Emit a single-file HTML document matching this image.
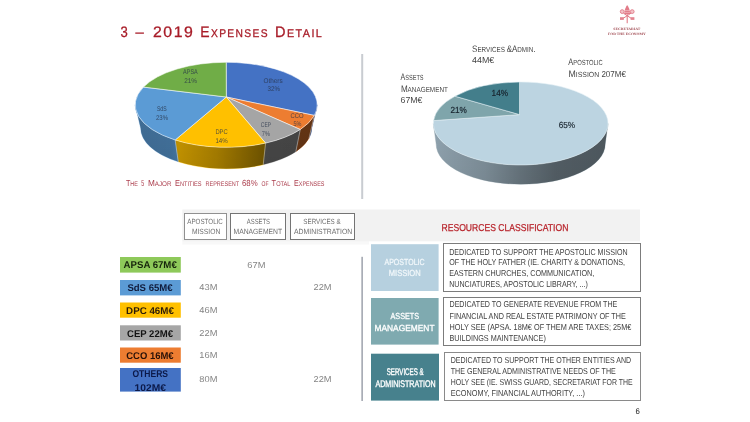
<!DOCTYPE html>
<html><head><meta charset="utf-8">
<style>
html,body{margin:0;padding:0;background:#fff;}
body{width:750px;height:422px;position:relative;overflow:hidden;font-family:"Liberation Sans",sans-serif;}
.t{position:absolute;white-space:nowrap;line-height:1;transform-origin:0 0;text-rendering:geometricPrecision;}
#tx{position:absolute;left:0;top:0;width:750px;height:422px;will-change:opacity;}
.b{position:absolute;box-sizing:border-box;}
</style></head><body>
<svg width="750" height="422" viewBox="0 0 750 422" style="position:absolute;left:0;top:0"><rect x="182.30" y="241.00" width="186.70" height="3.60" fill="#f8f8f8"/>
<rect x="182.30" y="209.50" width="457.70" height="31.80" fill="#f2f2f2"/>
<rect x="361.20" y="54.00" width="2.00" height="145.00" fill="#c9ccd1"/>
<rect x="361.30" y="256.80" width="1.70" height="144.20" fill="#a9adb6"/>
<rect x="184.50" y="213.50" width="42.00" height="26.00" fill="#ffffff" stroke="#909090" stroke-width="1"/>
<rect x="230.50" y="213.50" width="55.00" height="26.00" fill="#ffffff" stroke="#747474" stroke-width="1"/>
<rect x="290.50" y="213.50" width="64.00" height="26.00" fill="#ffffff" stroke="#747474" stroke-width="1"/>
<rect x="120.00" y="257.00" width="60.80" height="15.60" fill="#8ec95a"/>
<rect x="120.00" y="280.00" width="60.80" height="15.40" fill="#5b9bd5"/>
<rect x="120.00" y="302.50" width="60.80" height="15.20" fill="#ffc000"/>
<rect x="120.00" y="325.30" width="60.80" height="15.20" fill="#a6a6a6"/>
<rect x="120.00" y="347.50" width="60.80" height="15.20" fill="#ed7d31"/>
<rect x="120.00" y="368.00" width="60.80" height="23.60" fill="#4472c4"/>
<rect x="371.00" y="244.20" width="67.60" height="46.80" fill="#b6d0df"/>
<rect x="371.00" y="298.00" width="67.60" height="46.60" fill="#7faab0"/>
<rect x="371.00" y="353.70" width="68.00" height="46.90" fill="#47818d"/>
<rect x="443.50" y="243.50" width="197.00" height="48.00" fill="#ffffff" stroke="#7c7c7c" stroke-width="1"/>
<rect x="443.50" y="297.50" width="197.00" height="48.00" fill="#ffffff" stroke="#7c7c7c" stroke-width="1"/>
<rect x="444.50" y="352.50" width="196.00" height="48.00" fill="#ffffff" stroke="#8a8a8a" stroke-width="1"/></svg>
<svg width="750" height="422" viewBox="0 0 750 422" style="position:absolute;left:0;top:0">
<defs>
<linearGradient id="lps" gradientUnits="userSpaceOnUse" x1="135" y1="0" x2="317" y2="0">
<stop offset="0" stop-color="#000" stop-opacity="0.30"/>
<stop offset="0.2" stop-color="#000" stop-opacity="0.27"/>
<stop offset="0.24" stop-color="#000" stop-opacity="0.22"/>
<stop offset="0.45" stop-color="#000" stop-opacity="0.34"/>
<stop offset="0.70" stop-color="#000" stop-opacity="0.55"/>
<stop offset="0.74" stop-color="#000" stop-opacity="0.57"/>
<stop offset="1" stop-color="#000" stop-opacity="0.58"/>
</linearGradient>
<linearGradient id="lpv" gradientUnits="userSpaceOnUse" x1="0" y1="105" x2="0" y2="168">
<stop offset="0" stop-color="#000" stop-opacity="0"/>
<stop offset="1" stop-color="#000" stop-opacity="0.06"/>
</linearGradient>
<linearGradient id="rps" gradientUnits="userSpaceOnUse" x1="433" y1="0" x2="608" y2="0">
<stop offset="0" stop-color="#000" stop-opacity="0.0"/>
<stop offset="0.3" stop-color="#000" stop-opacity="0.13"/>
<stop offset="0.5" stop-color="#000" stop-opacity="0.29"/>
<stop offset="0.7" stop-color="#000" stop-opacity="0.42"/>
<stop offset="1" stop-color="#000" stop-opacity="0.46"/>
</linearGradient>
<linearGradient id="rpv" gradientUnits="userSpaceOnUse" x1="0" y1="123" x2="0" y2="186">
<stop offset="0" stop-color="#000" stop-opacity="0"/>
<stop offset="1" stop-color="#000" stop-opacity="0.05"/>
</linearGradient>
</defs>
<path d="M317.20,104.80 A91,42.5 0 0 1 314.31,115.42 L308.99,138.32 A85.5,40.5 0 0 0 311.70,128.20 Z" fill="#4472c4" stroke="#4472c4" stroke-width="0.4"/>
<path d="M314.31,115.42 A91,42.5 0 0 1 300.27,129.49 L295.79,151.73 A85.5,40.5 0 0 0 308.99,138.32 Z" fill="#ed7d31" stroke="#ed7d31" stroke-width="0.4"/>
<path d="M300.27,129.49 A91,42.5 0 0 1 265.59,143.11 L263.21,164.71 A85.5,40.5 0 0 0 295.79,151.73 Z" fill="#a5a5a5" stroke="#a5a5a5" stroke-width="0.4"/>
<path d="M265.59,143.11 A91,42.5 0 0 1 175.16,139.98 L178.24,161.73 A85.5,40.5 0 0 0 263.21,164.71 Z" fill="#ffc000" stroke="#ffc000" stroke-width="0.4"/>
<path d="M175.16,139.98 A91,42.5 0 0 1 135.20,104.80 L140.70,128.20 A85.5,40.5 0 0 0 178.24,161.73 Z" fill="#5b9bd5" stroke="#5b9bd5" stroke-width="0.4"/>
<path d="M317.20,104.80 A91,42.5 0 0 1 135.20,104.80 L140.70,128.20 A85.5,40.5 0 0 0 311.70,128.20 Z" fill="url(#lps)"/>
<path d="M317.20,104.80 A91,42.5 0 0 1 135.20,104.80 L140.70,128.20 A85.5,40.5 0 0 0 311.70,128.20 Z" fill="url(#lpv)"/>
<path d="M314.31,115.42 L308.99,138.32" stroke="#ffffff" stroke-opacity="0.55" stroke-width="0.7" fill="none"/>
<path d="M300.27,129.49 L295.79,151.73" stroke="#ffffff" stroke-opacity="0.55" stroke-width="0.7" fill="none"/>
<path d="M265.59,143.11 L263.21,164.71" stroke="#ffffff" stroke-opacity="0.55" stroke-width="0.7" fill="none"/>
<path d="M175.16,139.98 L178.24,161.73" stroke="#ffffff" stroke-opacity="0.55" stroke-width="0.7" fill="none"/>
<path d="M226.30,97.00 L226.20,62.30 A91,42.5 0 0 1 314.31,115.42 Z" fill="#4472c4" stroke="#ffffff" stroke-opacity="0.75" stroke-width="0.7" stroke-linejoin="round"/>
<path d="M226.30,97.00 L314.31,115.42 A91,42.5 0 0 1 300.27,129.49 Z" fill="#ed7d31" stroke="#ffffff" stroke-opacity="0.75" stroke-width="0.7" stroke-linejoin="round"/>
<path d="M226.30,97.00 L300.27,129.49 A91,42.5 0 0 1 265.59,143.11 Z" fill="#a5a5a5" stroke="#ffffff" stroke-opacity="0.75" stroke-width="0.7" stroke-linejoin="round"/>
<path d="M226.30,97.00 L265.59,143.11 A91,42.5 0 0 1 175.16,139.98 Z" fill="#ffc000" stroke="#ffffff" stroke-opacity="0.75" stroke-width="0.7" stroke-linejoin="round"/>
<path d="M226.30,97.00 L175.16,139.98 A91,42.5 0 0 1 143.47,87.09 Z" fill="#5b9bd5" stroke="#ffffff" stroke-opacity="0.75" stroke-width="0.7" stroke-linejoin="round"/>
<path d="M226.30,97.00 L143.47,87.09 A91,42.5 0 0 1 226.20,62.30 Z" fill="#70ad47" stroke="#ffffff" stroke-opacity="0.75" stroke-width="0.7" stroke-linejoin="round"/>
<path d="M608.00,123.50 A87.3,41.5 0 0 1 433.40,123.50 L436.20,144.20 A84.5,40 0 0 0 605.20,144.20 Z" fill="#90a3af" stroke="#90a3af" stroke-width="0.4"/>
<path d="M608.00,123.50 A87.3,41.5 0 0 1 433.40,123.50 L436.20,144.20 A84.5,40 0 0 0 605.20,144.20 Z" fill="url(#rps)"/>
<path d="M608.00,123.50 A87.3,41.5 0 0 1 433.40,123.50 L436.20,144.20 A84.5,40 0 0 0 605.20,144.20 Z" fill="url(#rpv)"/>
<path d="M519.50,114.60 L519.51,82.00 A87.3,41.5 0 1 1 433.61,120.60 Z" fill="#bcd4e1" stroke="#e3eef5" stroke-opacity="0.8" stroke-width="0.7" stroke-linejoin="round"/>
<path d="M519.50,114.60 L433.61,120.60 A87.3,41.5 0 0 1 454.94,96.21 Z" fill="#7fa5ab" stroke="#e3eef5" stroke-opacity="0.8" stroke-width="0.7" stroke-linejoin="round"/>
<path d="M519.50,114.60 L454.94,96.21 A87.3,41.5 0 0 1 519.51,82.00 Z" fill="#437e8b" stroke="#e3eef5" stroke-opacity="0.8" stroke-width="0.7" stroke-linejoin="round"/>
<g>
<path d="M627.2,5.6 C625.4,7.4 624.4,10.2 624.2,14 L630.2,14 C630,10.2 629,7.4 627.2,5.6 Z" fill="#e27c89"/>
<path d="M626.2,6.6 h2 M627.2,5.2 v2.2" stroke="#e27c89" stroke-width="0.6" fill="none"/>
<circle cx="622.2" cy="11.6" r="1.9" fill="#f3c3c8" stroke="#e48491" stroke-width="1"/>
<circle cx="632.2" cy="11.6" r="1.9" fill="#f3c3c8" stroke="#e48491" stroke-width="1"/>
<path d="M623.4,13.2 L631.6,18.6 M631,13.2 L622.8,18.6" stroke="#e27c89" stroke-width="1" fill="none"/>
<rect x="620" y="17.2" width="3.8" height="2.7" fill="#e48491"/>
<rect x="630.6" y="17.2" width="3.8" height="2.7" fill="#e48491"/>
<path d="M627.2,14 V23.2" stroke="#e27c89" stroke-width="1.1" fill="none"/>
<path d="M624.6,10.5 h5.2 M624.3,12.4 h5.8" stroke="#f6d5d9" stroke-width="0.5" fill="none"/>
</g>
</svg>
<div id="tx">
<div class="t" id="t0" style='left:120px;top:25px;font-size:15.2px;color:#a81c28;font-weight:400;font-family:"Liberation Sans", sans-serif;transform:translate(0.40px,0.00px) scaleX(0.8618);-webkit-text-stroke:0.3px #a81c28;'><span style="font-size:15.2px">3</span></div>
<div class="t" id="t1" style='left:135px;top:25px;font-size:15.2px;color:#a81c28;font-weight:400;font-family:"Liberation Sans", sans-serif;transform:translate(0.60px,0.00px) scaleX(0.9771);-webkit-text-stroke:0.3px #a81c28;'><span style="font-size:15.2px">–</span></div>
<div class="t" id="t2" style='left:152px;top:25px;font-size:15.2px;color:#a81c28;font-weight:400;font-family:"Liberation Sans", sans-serif;letter-spacing:1.5px;transform:translate(0.90px,0.00px) scaleX(1.0436);-webkit-text-stroke:0.3px #a81c28;'><span style="font-size:15.2px">2019</span></div>
<div class="t" id="t3" style='left:200px;top:25px;font-size:15.2px;color:#a81c28;font-weight:400;font-family:"Liberation Sans", sans-serif;letter-spacing:1.5px;transform:translate(0.28px,0.00px) scaleX(0.9162);-webkit-text-stroke:0.3px #a81c28;'><span style="font-size:15.2px">E</span><span style="font-size:11.2px">XPENSES</span></div>
<div class="t" id="t4" style='left:275px;top:25px;font-size:15.2px;color:#a81c28;font-weight:400;font-family:"Liberation Sans", sans-serif;letter-spacing:1.5px;transform:translate(0.04px,0.00px) scaleX(0.9597);-webkit-text-stroke:0.3px #a81c28;'><span style="font-size:15.2px">D</span><span style="font-size:11.2px">ETAIL</span></div>
<div class="t" id="t5" style='left:125px;top:179px;font-size:8.8px;color:#ac3f4e;font-weight:400;font-family:"Liberation Sans", sans-serif;transform:translate(0.90px,0.00px) scaleX(0.8152);'><span style="font-size:8.8px">T</span><span style="font-size:6.7px">HE</span></div>
<div class="t" id="t6" style='left:141px;top:179px;font-size:8.8px;color:#ac3f4e;font-weight:400;font-family:"Liberation Sans", sans-serif;transform:translate(0.30px,0.00px) scaleX(0.5983);'><span style="font-size:8.8px">5</span></div>
<div class="t" id="t7" style='left:147px;top:179px;font-size:8.8px;color:#ac3f4e;font-weight:400;font-family:"Liberation Sans", sans-serif;transform:translate(0.90px,0.00px) scaleX(0.9352);'><span style="font-size:8.8px">M</span><span style="font-size:6.7px">AJOR</span></div>
<div class="t" id="t8" style='left:175px;top:179px;font-size:8.8px;color:#ac3f4e;font-weight:400;font-family:"Liberation Sans", sans-serif;transform:translate(0.00px,0.00px) scaleX(0.8454);'><span style="font-size:8.8px">E</span><span style="font-size:6.7px">NTITIES</span></div>
<div class="t" id="t9" style='left:205px;top:179px;font-size:8.8px;color:#ac3f4e;font-weight:400;font-family:"Liberation Sans", sans-serif;transform:translate(0.50px,0.00px) scaleX(0.8234);'><span style="font-size:6.7px">REPRESENT</span></div>
<div class="t" id="t10" style='left:242px;top:179px;font-size:8.8px;color:#ac3f4e;font-weight:400;font-family:"Liberation Sans", sans-serif;transform:translate(0.00px,0.00px) scaleX(0.8883);'><span style="font-size:8.8px">68%</span></div>
<div class="t" id="t11" style='left:261px;top:179px;font-size:8.8px;color:#ac3f4e;font-weight:400;font-family:"Liberation Sans", sans-serif;transform:translate(0.50px,0.00px) scaleX(0.7490);'><span style="font-size:6.7px">OF</span></div>
<div class="t" id="t12" style='left:271px;top:179px;font-size:8.8px;color:#ac3f4e;font-weight:400;font-family:"Liberation Sans", sans-serif;transform:translate(0.60px,0.00px) scaleX(0.8436);'><span style="font-size:8.8px">T</span><span style="font-size:6.7px">OTAL</span></div>
<div class="t" id="t13" style='left:294px;top:179px;font-size:8.8px;color:#ac3f4e;font-weight:400;font-family:"Liberation Sans", sans-serif;transform:translate(0.10px,0.00px) scaleX(0.8104);'><span style="font-size:8.8px">E</span><span style="font-size:6.7px">XPENSES</span></div>
<div class="t" id="t14" style='left:183px;top:70px;font-size:6.8px;color:rgba(38,50,72,0.78);font-weight:400;font-family:"Liberation Sans", sans-serif;transform:translate(0.10px,0.00px) scaleX(0.8061);'>APSA</div>
<div class="t" id="t15" style='left:184px;top:79px;font-size:6.8px;color:rgba(38,50,72,0.78);font-weight:400;font-family:"Liberation Sans", sans-serif;transform:translate(0.20px,0.00px) scaleX(0.9435);'>21%</div>
<div class="t" id="t16" style='left:263px;top:79px;font-size:6.8px;color:rgba(38,50,72,0.78);font-weight:400;font-family:"Liberation Sans", sans-serif;transform:translate(0.50px,0.00px) scaleX(0.9377);'>Others</div>
<div class="t" id="t17" style='left:267px;top:87px;font-size:6.8px;color:rgba(38,50,72,0.78);font-weight:400;font-family:"Liberation Sans", sans-serif;transform:translate(0.60px,0.00px) scaleX(0.9141);'>32%</div>
<div class="t" id="t18" style='left:156px;top:107px;font-size:6.8px;color:rgba(38,50,72,0.78);font-weight:400;font-family:"Liberation Sans", sans-serif;transform:translate(0.90px,0.00px) scaleX(0.7579);'>SdS</div>
<div class="t" id="t19" style='left:155px;top:116px;font-size:6.8px;color:rgba(38,50,72,0.78);font-weight:400;font-family:"Liberation Sans", sans-serif;transform:translate(0.90px,0.00px) scaleX(0.8919);'>23%</div>
<div class="t" id="t20" style='left:215px;top:130px;font-size:6.8px;color:rgba(38,50,72,0.78);font-weight:400;font-family:"Liberation Sans", sans-serif;transform:translate(0.40px,0.00px) scaleX(0.8512);'>DPC</div>
<div class="t" id="t21" style='left:215px;top:139px;font-size:6.8px;color:rgba(38,50,72,0.78);font-weight:400;font-family:"Liberation Sans", sans-serif;transform:translate(0.40px,0.00px) scaleX(0.9067);'>14%</div>
<div class="t" id="t22" style='left:260px;top:123px;font-size:6.8px;color:rgba(38,50,72,0.78);font-weight:400;font-family:"Liberation Sans", sans-serif;transform:translate(0.80px,0.00px) scaleX(0.7335);'>CEP</div>
<div class="t" id="t23" style='left:261px;top:132px;font-size:6.8px;color:rgba(38,50,72,0.78);font-weight:400;font-family:"Liberation Sans", sans-serif;transform:translate(0.80px,0.00px) scaleX(0.8278);'>7%</div>
<div class="t" id="t24" style='left:290px;top:114px;font-size:6.8px;color:rgba(38,50,72,0.78);font-weight:400;font-family:"Liberation Sans", sans-serif;transform:translate(0.60px,0.00px) scaleX(0.8635);'>CCO</div>
<div class="t" id="t25" style='left:293px;top:122px;font-size:6.8px;color:rgba(38,50,72,0.78);font-weight:400;font-family:"Liberation Sans", sans-serif;transform:translate(0.40px,0.00px) scaleX(0.8074);'>5%</div>
<div class="t" id="t26" style='left:472px;top:44px;font-size:9.4px;color:#464646;font-weight:400;font-family:"Liberation Sans", sans-serif;transform:translate(0.10px,0.00px) scaleX(0.8508);'><span style="font-size:9.4px">S</span><span style="font-size:7.4px">ERVICES </span><span style="font-size:9.4px">&amp;A</span><span style="font-size:7.4px">DMIN</span><span style="font-size:9.4px">.</span></div>
<div class="t" id="t27" style='left:472px;top:56px;font-size:8.6px;color:#464646;font-weight:400;font-family:"Liberation Sans", sans-serif;transform:translate(0.10px,0.00px) scaleX(1.0313);'>44M€</div>
<div class="t" id="t28" style='left:400px;top:72px;font-size:9.4px;color:#464646;font-weight:400;font-family:"Liberation Sans", sans-serif;transform:translate(0.60px,0.00px) scaleX(0.7524);'><span style="font-size:9.4px">A</span><span style="font-size:7.4px">SSETS</span></div>
<div class="t" id="t29" style='left:400px;top:84px;font-size:9.4px;color:#464646;font-weight:400;font-family:"Liberation Sans", sans-serif;transform:translate(0.90px,0.00px) scaleX(0.8601);'><span style="font-size:9.4px">M</span><span style="font-size:7.4px">ANAGEMENT</span></div>
<div class="t" id="t30" style='left:400px;top:96px;font-size:8.6px;color:#464646;font-weight:400;font-family:"Liberation Sans", sans-serif;transform:translate(0.60px,0.00px) scaleX(1.0175);'>67M€</div>
<div class="t" id="t31" style='left:568px;top:57px;font-size:9.4px;color:#464646;font-weight:400;font-family:"Liberation Sans", sans-serif;transform:translate(0.30px,0.00px) scaleX(0.7900);'><span style="font-size:9.4px">A</span><span style="font-size:7.4px">POSTOLIC</span></div>
<div class="t" id="t32" style='left:568px;top:69px;font-size:9.4px;color:#464646;font-weight:400;font-family:"Liberation Sans", sans-serif;transform:translate(0.50px,0.00px) scaleX(0.9325);'><span style="font-size:9.4px">M</span><span style="font-size:7.4px">ISSION</span><span style="font-size:8.6px"> 207M€</span></div>
<div class="t" id="t33" style='left:491px;top:89px;font-size:8.8px;color:#18242e;font-weight:400;font-family:"Liberation Sans", sans-serif;transform:translate(0.60px,0.00px) scaleX(0.9332);-webkit-text-stroke:0.2px #18242e;'>14%</div>
<div class="t" id="t34" style='left:450px;top:106px;font-size:8.8px;color:#18242e;font-weight:400;font-family:"Liberation Sans", sans-serif;transform:translate(0.40px,0.00px) scaleX(0.9332);-webkit-text-stroke:0.2px #18242e;'>21%</div>
<div class="t" id="t35" style='left:558px;top:121px;font-size:8.8px;color:#18242e;font-weight:400;font-family:"Liberation Sans", sans-serif;transform:translate(0.70px,0.00px) scaleX(0.9332);-webkit-text-stroke:0.15px #18242e;'>65%</div>
<div class="t" id="t36" style='left:187px;top:218px;font-size:7.5px;color:#6e6e6e;font-weight:400;font-family:"Liberation Sans", sans-serif;transform:translate(0.30px,0.00px) scaleX(0.8299);'>APOSTOLIC</div>
<div class="t" id="t37" style='left:191px;top:228px;font-size:7.5px;color:#6e6e6e;font-weight:400;font-family:"Liberation Sans", sans-serif;transform:translate(0.90px,0.00px) scaleX(0.8958);'>MISSION</div>
<div class="t" id="t38" style='left:246px;top:218px;font-size:7.5px;color:#6e6e6e;font-weight:400;font-family:"Liberation Sans", sans-serif;transform:translate(0.80px,0.00px) scaleX(0.7840);'>ASSETS</div>
<div class="t" id="t39" style='left:233px;top:228px;font-size:7.5px;color:#6e6e6e;font-weight:400;font-family:"Liberation Sans", sans-serif;transform:translate(0.50px,0.00px) scaleX(0.9043);'>MANAGEMENT</div>
<div class="t" id="t40" style='left:303px;top:218px;font-size:7.5px;color:#6e6e6e;font-weight:400;font-family:"Liberation Sans", sans-serif;transform:translate(0.30px,0.00px) scaleX(0.8332);'>SERVICES &amp;</div>
<div class="t" id="t41" style='left:294px;top:228px;font-size:7.5px;color:#6e6e6e;font-weight:400;font-family:"Liberation Sans", sans-serif;transform:translate(0.00px,0.00px) scaleX(0.9160);'>ADMINISTRATION</div>
<div class="t" id="t42" style='left:247px;top:261px;font-size:8.6px;color:#858585;font-weight:400;font-family:"Liberation Sans", sans-serif;transform:translate(0.30px,0.00px) scaleX(1.0809);'>67M</div>
<div class="t" id="t43" style='left:199px;top:283px;font-size:8.6px;color:#858585;font-weight:400;font-family:"Liberation Sans", sans-serif;transform:translate(0.30px,0.00px) scaleX(1.0809);'>43M</div>
<div class="t" id="t44" style='left:313px;top:283px;font-size:8.6px;color:#858585;font-weight:400;font-family:"Liberation Sans", sans-serif;transform:translate(0.50px,0.00px) scaleX(1.0809);'>22M</div>
<div class="t" id="t45" style='left:199px;top:306px;font-size:8.6px;color:#858585;font-weight:400;font-family:"Liberation Sans", sans-serif;transform:translate(0.30px,0.00px) scaleX(1.0809);'>46M</div>
<div class="t" id="t46" style='left:199px;top:329px;font-size:8.6px;color:#858585;font-weight:400;font-family:"Liberation Sans", sans-serif;transform:translate(0.30px,0.00px) scaleX(1.0809);'>22M</div>
<div class="t" id="t47" style='left:199px;top:351px;font-size:8.6px;color:#858585;font-weight:400;font-family:"Liberation Sans", sans-serif;transform:translate(0.30px,0.00px) scaleX(1.0809);'>16M</div>
<div class="t" id="t48" style='left:199px;top:375px;font-size:8.6px;color:#858585;font-weight:400;font-family:"Liberation Sans", sans-serif;transform:translate(0.30px,0.00px) scaleX(1.0809);'>80M</div>
<div class="t" id="t49" style='left:313px;top:375px;font-size:8.6px;color:#858585;font-weight:400;font-family:"Liberation Sans", sans-serif;transform:translate(0.50px,0.00px) scaleX(1.0809);'>22M</div>
<div class="t" id="t50" style='left:123px;top:261px;font-size:9.8px;color:#16240c;font-weight:700;font-family:"Liberation Sans", sans-serif;transform:translate(0.60px,0.00px) scaleX(0.9827);'>APSA 67M€</div>
<div class="t" id="t51" style='left:127px;top:284px;font-size:9.8px;color:#101c3c;font-weight:700;font-family:"Liberation Sans", sans-serif;transform:translate(0.40px,0.00px) scaleX(0.9755);'>SdS 65M€</div>
<div class="t" id="t52" style='left:126px;top:307px;font-size:9.8px;color:#2c1c08;font-weight:700;font-family:"Liberation Sans", sans-serif;transform:translate(0.10px,0.00px) scaleX(0.9964);'>DPC 46M€</div>
<div class="t" id="t53" style='left:127px;top:330px;font-size:9.8px;color:#141414;font-weight:700;font-family:"Liberation Sans", sans-serif;transform:translate(0.00px,0.00px) scaleX(0.9737);'>CEP 22M€</div>
<div class="t" id="t54" style='left:126px;top:352px;font-size:9.8px;color:#2a1208;font-weight:700;font-family:"Liberation Sans", sans-serif;transform:translate(0.20px,0.00px) scaleX(0.9667);'>CCO 16M€</div>
<div class="t" id="t55" style='left:132px;top:370px;font-size:9.8px;color:#0c1a4a;font-weight:700;font-family:"Liberation Sans", sans-serif;transform:translate(0.40px,0.00px) scaleX(0.8718);'>OTHERS</div>
<div class="t" id="t56" style='left:134px;top:384px;font-size:9.8px;color:#0c1a4a;font-weight:700;font-family:"Liberation Sans", sans-serif;transform:translate(0.60px,0.00px) scaleX(1.0452);'>102M€</div>
<div class="t" id="t57" style='left:441px;top:224px;font-size:10px;color:#b8232b;font-weight:400;font-family:"Liberation Sans", sans-serif;transform:translate(0.50px,0.00px) scaleX(0.8595);-webkit-text-stroke:0.25px #b8232b;'>RESOURCES CLASSIFICATION</div>
<div class="t" id="t58" style='left:384px;top:258px;font-size:8.8px;color:#f3f8fb;font-weight:400;font-family:"Liberation Sans", sans-serif;transform:translate(0.50px,0.00px) scaleX(0.7984);-webkit-text-stroke:0.2px #f3f8fb;'>APOSTOLIC</div>
<div class="t" id="t59" style='left:388px;top:269px;font-size:8.8px;color:#f3f8fb;font-weight:400;font-family:"Liberation Sans", sans-serif;transform:translate(0.80px,0.00px) scaleX(0.8586);-webkit-text-stroke:0.2px #f3f8fb;'>MISSION</div>
<div class="t" id="t60" style='left:390px;top:312px;font-size:8.8px;color:#ffffff;font-weight:400;font-family:"Liberation Sans", sans-serif;transform:translate(0.50px,0.00px) scaleX(0.8206);-webkit-text-stroke:0.3px #fff;'>ASSETS</div>
<div class="t" id="t61" style='left:374px;top:324px;font-size:8.8px;color:#ffffff;font-weight:400;font-family:"Liberation Sans", sans-serif;transform:translate(0.50px,0.00px) scaleX(0.9515);-webkit-text-stroke:0.3px #fff;'>MANAGEMENT</div>
<div class="t" id="t62" style='left:386px;top:368px;font-size:9.6px;color:#ffffff;font-weight:400;font-family:"Liberation Sans", sans-serif;transform:translate(0.70px,0.00px) scaleX(0.6428);-webkit-text-stroke:0.35px #fff;'>SERVICES &amp;</div>
<div class="t" id="t63" style='left:375px;top:380px;font-size:9.6px;color:#ffffff;font-weight:400;font-family:"Liberation Sans", sans-serif;transform:translate(0.40px,0.00px) scaleX(0.7404);-webkit-text-stroke:0.35px #fff;'>ADMINISTRATION</div>
<div class="t" id="t64" style='left:449px;top:248px;font-size:8.6px;color:#424242;font-weight:400;font-family:"Liberation Sans", sans-serif;transform:translate(0.20px,0.00px) scaleX(0.8269);'>DEDICATED TO SUPPORT THE APOSTOLIC MISSION</div>
<div class="t" id="t65" style='left:449px;top:258px;font-size:8.6px;color:#424242;font-weight:400;font-family:"Liberation Sans", sans-serif;transform:translate(0.20px,0.00px) scaleX(0.8335);'>OF THE HOLY FATHER (IE. CHARITY &amp; DONATIONS,</div>
<div class="t" id="t66" style='left:449px;top:269px;font-size:8.6px;color:#424242;font-weight:400;font-family:"Liberation Sans", sans-serif;transform:translate(0.20px,0.00px) scaleX(0.8398);'>EASTERN CHURCHES, COMMUNICATION,</div>
<div class="t" id="t67" style='left:449px;top:280px;font-size:8.6px;color:#424242;font-weight:400;font-family:"Liberation Sans", sans-serif;transform:translate(0.20px,0.00px) scaleX(0.8275);'>NUNCIATURES, APOSTOLIC LIBRARY, ...)</div>
<div class="t" id="t68" style='left:449px;top:300px;font-size:8.6px;color:#424242;font-weight:400;font-family:"Liberation Sans", sans-serif;transform:translate(0.50px,0.00px) scaleX(0.8261);'>DEDICATED TO GENERATE REVENUE FROM THE</div>
<div class="t" id="t69" style='left:449px;top:312px;font-size:8.6px;color:#424242;font-weight:400;font-family:"Liberation Sans", sans-serif;transform:translate(0.50px,0.00px) scaleX(0.8415);'>FINANCIAL AND REAL ESTATE PATRIMONY OF THE</div>
<div class="t" id="t70" style='left:449px;top:323px;font-size:8.6px;color:#424242;font-weight:400;font-family:"Liberation Sans", sans-serif;transform:translate(0.50px,0.00px) scaleX(0.8529);'>HOLY SEE (APSA. 18M€ OF THEM ARE TAXES; 25M€</div>
<div class="t" id="t71" style='left:449px;top:334px;font-size:8.6px;color:#424242;font-weight:400;font-family:"Liberation Sans", sans-serif;transform:translate(0.50px,0.00px) scaleX(0.8445);'>BUILDINGS MAINTENANCE)</div>
<div class="t" id="t72" style='left:450px;top:356px;font-size:8.6px;color:#424242;font-weight:400;font-family:"Liberation Sans", sans-serif;transform:translate(0.70px,0.00px) scaleX(0.8216);'>DEDICATED TO SUPPORT THE OTHER ENTITIES AND</div>
<div class="t" id="t73" style='left:450px;top:367px;font-size:8.6px;color:#424242;font-weight:400;font-family:"Liberation Sans", sans-serif;transform:translate(0.70px,0.00px) scaleX(0.8277);'>THE GENERAL ADMINISTRATIVE NEEDS OF THE</div>
<div class="t" id="t74" style='left:450px;top:378px;font-size:8.6px;color:#424242;font-weight:400;font-family:"Liberation Sans", sans-serif;transform:translate(0.70px,0.00px) scaleX(0.8095);'>HOLY SEE (IE. SWISS GUARD, SECRETARIAT FOR THE</div>
<div class="t" id="t75" style='left:450px;top:389px;font-size:8.6px;color:#424242;font-weight:400;font-family:"Liberation Sans", sans-serif;transform:translate(0.70px,0.00px) scaleX(0.8498);'>ECONOMY, FINANCIAL AUTHORITY, ...)</div>
<div class="t" id="t76" style='left:635px;top:408px;font-size:8.2px;color:#262626;font-weight:400;font-family:"Liberation Sans", sans-serif;transform:translate(0.62px,0.00px) scaleX(0.9500);'>6</div>
<div class="t" id="t77" style='left:613px;top:28px;font-size:3.4px;color:#a04a52;font-weight:700;font-family:"Liberation Serif", serif;transform:translate(0.30px,0.00px) scaleX(1.1197);'>SECRETARIAT</div>
<div class="t" id="t78" style='left:608px;top:33px;font-size:3.4px;color:#a04a52;font-weight:700;font-family:"Liberation Serif", serif;transform:translate(0.00px,0.00px) scaleX(1.1099);'>FOR THE ECONOMY</div>
</div>
</body></html>
